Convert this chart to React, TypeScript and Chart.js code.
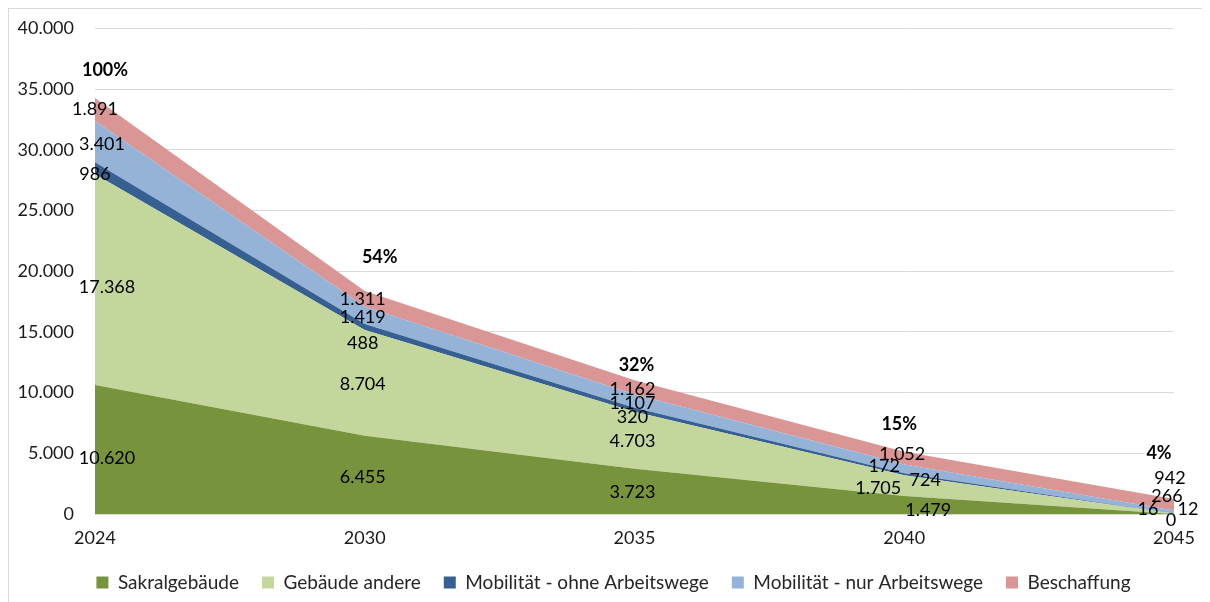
import { useEffect, useRef } from 'react';
import { Chart, registerables } from 'chart.js';

Chart.register(...registerables);

// ---- data ----
const years = ['2024', '2030', '2035', '2040', '2045'];
const sakralgebaeude = [10620, 6455, 3723, 1479, 0];
const gebaeudeAndere = [17368, 8704, 4703, 1705, 16];
const mobilitaetOhneArbeitswege = [986, 488, 320, 172, 12];
const mobilitaetNurArbeitswege = [3401, 1419, 1107, 724, 266];
const beschaffung = [1891, 1311, 1162, 1052, 942];
const seriesNames = [
  'Sakralgebäude',
  'Gebäude andere',
  'Mobilität - ohne Arbeitswege',
  'Mobilität - nur Arbeitswege',
  'Beschaffung',
];
const yMin = 0;
const yMax = 40000;
const yStep = 5000;

// ---- styles ----
const seriesColors = ['#77933C', '#C3D69B', '#376092', '#95B3D7', '#D99694'];
const FONT = 'Lato';
// small pixel nudges of the value labels (dx, dy), per series and per year
const labelNudges: number[][][] = [
  [[12, 8], [-2, 2], [-2, 0], [24, 4], [-3, 5]],
  [[12, 7], [-2, 1], [-2, 0], [-26, 2], [-26, -5]],
  [[0, 5], [-2, 15], [-2, 7], [-20, -9], [14, -5]],
  [[7, 1.5], [-2, 1], [-2, 1.5], [21, 11], [-7, -17]],
  [[0, -1.5], [-2, 0], [-2, 1], [-2, -5], [-4, -27]],
];
const percentNudges: number[][] = [[10, -29], [15, -34], [2, -16], [-5, -28], [-15, -46]];
const legendShift = 22;

const fmt = (n: number) => String(Math.round(n)).replace(/\B(?=(\d{3})+(?!\d))/g, '.');

const labelPlugin = {
  id: 'areaValueLabels',
  afterLayout(chart: any) {
    const lg = chart.legend;
    if (lg) {
      lg.left += legendShift;
      lg.right += legendShift;
    }
  },
  afterDatasetsDraw(chart: any) {
    const { ctx, scales } = chart;
    const xs = scales.x;
    const ys = scales.y;
    const ds = chart.data.datasets;
    const n = chart.data.labels.length;
    const totals: number[] = [];
    for (let j = 0; j < n; j++) {
      let t = 0;
      ds.forEach((d: any) => (t += d.data[j]));
      totals.push(t);
    }
    ctx.save();
    ctx.textAlign = 'center';
    ctx.textBaseline = 'alphabetic';
    for (let j = 0; j < n; j++) {
      let base = 0;
      ctx.font = `18px ${FONT}`;
      ctx.fillStyle = '#000000';
      ds.forEach((d: any, i: number) => {
        const v = d.data[j];
        const mid = base + v / 2;
        base += v;
        const [dx, dy] = labelNudges[i][j];
        ctx.fillText(fmt(v), xs.getPixelForValue(j) + dx, ys.getPixelForValue(mid) + dy + 6.5);
      });
      const pct = Math.round((totals[j] / totals[0]) * 100) + '%';
      const [pdx, pdy] = percentNudges[j];
      const cx = xs.getPixelForValue(j) + pdx;
      const cy = ys.getPixelForValue(totals[j]) + pdy;
      ctx.font = `bold 18px ${FONT}`;
      const w = ctx.measureText(pct).width;
      ctx.fillStyle = '#ffffff';
      ctx.fillRect(cx - w / 2 - 2, cy - 10, w + 4, 20);
      ctx.fillStyle = '#000000';
      ctx.fillText(pct, cx, cy + 6.5);
    }
    ctx.restore();
  },
};

export default function App() {
  const ref = useRef<HTMLCanvasElement | null>(null);

  useEffect(() => {
    if (!ref.current) return;
    Chart.defaults.font.family = FONT;
    const values = [
      sakralgebaeude,
      gebaeudeAndere,
      mobilitaetOhneArbeitswege,
      mobilitaetNurArbeitswege,
      beschaffung,
    ];
    const chart = new Chart(ref.current, {
      type: 'line',
      data: {
        labels: years,
        datasets: values.map((v, i) => ({
          label: seriesNames[i],
          data: v,
          backgroundColor: seriesColors[i],
          borderColor: seriesColors[i],
          borderWidth: 0,
          pointRadius: 0,
          pointHoverRadius: 0,
          tension: 0,
          fill: i === 0 ? 'origin' : '-1',
        })),
      },
      options: {
        responsive: false,
        animation: false,
        devicePixelRatio: 1,
        layout: { padding: { left: 0, right: 36, top: 19.5, bottom: 0 } },
        plugins: {
          tooltip: { enabled: false },
          legend: {
            position: 'bottom',
            labels: {
              boxWidth: 12,
              boxHeight: 12,
              padding: 23,
              color: '#262626',
              font: { size: 19, family: FONT },
            },
          },
        },
        scales: {
          x: {
            type: 'category',
            offset: false,
            grid: { display: false, drawTicks: false },
            border: { display: true, color: '#d9d9d9' },
            ticks: {
              padding: 13,
              color: '#1a1a1a',
              font: { size: 18, family: FONT },
              maxRotation: 0,
            },
            afterFit: (s: any) => {
              s.height = 36;
              s.paddingLeft = 0;
              s.paddingRight = 0;
            },
          },
          y: {
            stacked: true,
            min: yMin,
            max: yMax,
            ticks: {
              stepSize: yStep,
              padding: 21,
              color: '#1a1a1a',
              font: { size: 18, family: FONT },
              callback: (v: any) => fmt(Number(v)),
            },
            grid: { color: '#d9d9d9', drawTicks: false },
            border: { display: false },
            afterFit: (s: any) => {
              s.width = 86;
              s.paddingTop = 0;
              s.paddingBottom = 0;
            },
          },
        },
      },
      plugins: [labelPlugin],
    });
    return () => chart.destroy();
  }, []);

  return (
    <div
      style={{
        borderTop: '1px solid #d9d9d9',
        borderLeft: '1px solid #d9d9d9',
        width: 1201,
        height: 593,
        overflow: 'hidden',
        background: '#fff',
      }}
    >
      <canvas ref={ref} width={1201} height={593} style={{ display: 'block' }} />
    </div>
  );
}
